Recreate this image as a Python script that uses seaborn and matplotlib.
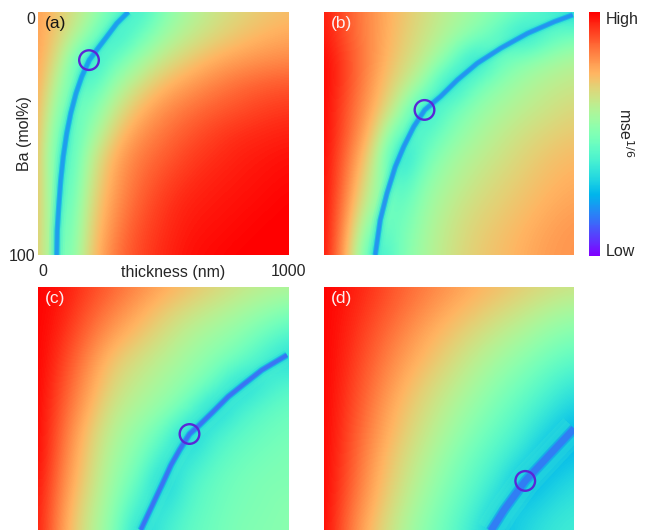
import matplotlib
matplotlib.use("Agg")
import matplotlib.pyplot as plt
import seaborn as sns
import numpy as np

# ---------------- data ----------------
thickness_nm = [0, 100, 200, 300, 400, 500, 600, 700, 800, 900, 1000]
ba_mol = [0, 10, 20, 30, 40, 50, 60, 70, 80, 90, 100]

# normalised mse^(1/6) (0 = Low, 1 = High); rows: Ba 0..100, cols: thickness 0..1000
mse_a = [
    [0.79, 0.70, 0.60, 0.46, 0.36, 0.50, 0.58, 0.64, 0.68, 0.71, 0.73],
    [0.79, 0.67, 0.53, 0.33, 0.45, 0.56, 0.63, 0.68, 0.72, 0.75, 0.77],
    [0.79, 0.61, 0.31, 0.45, 0.56, 0.65, 0.71, 0.76, 0.79, 0.81, 0.82],
    [0.79, 0.52, 0.38, 0.55, 0.66, 0.74, 0.79, 0.83, 0.86, 0.88, 0.89],
    [0.78, 0.44, 0.46, 0.63, 0.74, 0.81, 0.85, 0.88, 0.90, 0.92, 0.93],
    [0.78, 0.36, 0.52, 0.70, 0.80, 0.85, 0.89, 0.92, 0.94, 0.95, 0.96],
    [0.77, 0.32, 0.60, 0.76, 0.84, 0.88, 0.92, 0.94, 0.96, 0.97, 0.98],
    [0.77, 0.33, 0.63, 0.78, 0.86, 0.91, 0.94, 0.96, 0.97, 0.98, 0.99],
    [0.76, 0.35, 0.66, 0.80, 0.88, 0.93, 0.96, 0.97, 0.98, 0.99, 1.00],
    [0.75, 0.37, 0.68, 0.82, 0.90, 0.94, 0.97, 0.98, 0.99, 1.00, 1.00],
    [0.74, 0.39, 0.70, 0.84, 0.91, 0.95, 0.98, 0.99, 1.00, 1.00, 1.00],
]
mse_b = [
    [0.97, 0.88, 0.80, 0.73, 0.67, 0.61, 0.56, 0.51, 0.46, 0.40, 0.30],
    [0.98, 0.88, 0.80, 0.72, 0.65, 0.58, 0.51, 0.42, 0.30, 0.42, 0.48],
    [1.00, 0.90, 0.80, 0.70, 0.62, 0.50, 0.28, 0.45, 0.52, 0.56, 0.60],
    [1.00, 0.90, 0.78, 0.66, 0.55, 0.28, 0.46, 0.53, 0.58, 0.62, 0.64],
    [1.00, 0.88, 0.76, 0.60, 0.32, 0.45, 0.53, 0.58, 0.62, 0.65, 0.68],
    [1.00, 0.87, 0.72, 0.42, 0.40, 0.50, 0.57, 0.62, 0.66, 0.69, 0.71],
    [1.00, 0.84, 0.66, 0.28, 0.46, 0.56, 0.61, 0.65, 0.69, 0.72, 0.74],
    [1.00, 0.82, 0.60, 0.36, 0.52, 0.59, 0.64, 0.68, 0.71, 0.74, 0.76],
    [1.00, 0.79, 0.54, 0.42, 0.55, 0.62, 0.67, 0.70, 0.73, 0.76, 0.78],
    [1.00, 0.76, 0.42, 0.46, 0.57, 0.64, 0.69, 0.72, 0.75, 0.78, 0.80],
    [1.00, 0.73, 0.32, 0.48, 0.58, 0.65, 0.70, 0.73, 0.76, 0.79, 0.80],
]
mse_c = [
    [1.00, 0.97, 0.92, 0.87, 0.82, 0.77, 0.73, 0.69, 0.65, 0.62, 0.60],
    [1.00, 0.96, 0.89, 0.83, 0.77, 0.71, 0.66, 0.62, 0.58, 0.54, 0.50],
    [1.00, 0.94, 0.86, 0.78, 0.72, 0.66, 0.60, 0.56, 0.52, 0.46, 0.40],
    [1.00, 0.92, 0.82, 0.72, 0.66, 0.61, 0.56, 0.51, 0.46, 0.38, 0.32],
    [1.00, 0.90, 0.79, 0.68, 0.62, 0.57, 0.52, 0.45, 0.30, 0.36, 0.42],
    [1.00, 0.88, 0.76, 0.64, 0.58, 0.53, 0.45, 0.28, 0.38, 0.43, 0.46],
    [1.00, 0.86, 0.72, 0.60, 0.53, 0.45, 0.28, 0.38, 0.43, 0.46, 0.48],
    [1.00, 0.84, 0.70, 0.57, 0.50, 0.36, 0.34, 0.42, 0.46, 0.48, 0.50],
    [0.99, 0.82, 0.68, 0.55, 0.45, 0.28, 0.40, 0.45, 0.48, 0.50, 0.50],
    [0.98, 0.80, 0.65, 0.53, 0.38, 0.33, 0.42, 0.46, 0.49, 0.50, 0.52],
    [0.98, 0.78, 0.63, 0.51, 0.30, 0.38, 0.44, 0.47, 0.50, 0.51, 0.52],
]
mse_d = [
    [1.00, 0.97, 0.93, 0.88, 0.84, 0.80, 0.76, 0.73, 0.70, 0.67, 0.65],
    [1.00, 0.96, 0.91, 0.86, 0.81, 0.76, 0.72, 0.68, 0.64, 0.60, 0.57],
    [1.00, 0.95, 0.89, 0.83, 0.77, 0.72, 0.67, 0.62, 0.58, 0.53, 0.50],
    [1.00, 0.94, 0.87, 0.80, 0.74, 0.68, 0.62, 0.57, 0.52, 0.47, 0.43],
    [1.00, 0.93, 0.85, 0.77, 0.70, 0.64, 0.58, 0.52, 0.47, 0.41, 0.36],
    [1.00, 0.92, 0.83, 0.74, 0.67, 0.60, 0.54, 0.48, 0.42, 0.36, 0.30],
    [1.00, 0.91, 0.81, 0.72, 0.64, 0.57, 0.50, 0.44, 0.38, 0.30, 0.24],
    [1.00, 0.90, 0.79, 0.69, 0.61, 0.53, 0.46, 0.40, 0.33, 0.24, 0.28],
    [1.00, 0.89, 0.77, 0.67, 0.58, 0.50, 0.43, 0.36, 0.24, 0.28, 0.33],
    [1.00, 0.87, 0.75, 0.64, 0.55, 0.47, 0.40, 0.30, 0.28, 0.33, 0.36],
    [1.00, 0.85, 0.72, 0.61, 0.52, 0.45, 0.36, 0.26, 0.32, 0.36, 0.38],
]

# minimum valley traced on each panel (thickness nm, Ba mol%)
valley_a_thk = [361, 315, 275, 235, 205, 175, 152, 131, 115, 101, 91, 83, 77, 75]
valley_a_ba = [0, 4.7, 10.2, 15.6, 19.8, 26.6, 33.5, 41.7, 49.9, 59.5, 69.1, 80.1, 89.7, 100]
valley_b_thk = [995, 921, 814, 707, 613, 533, 466, 403, 359, 319, 285, 252, 225, 205]
valley_b_ba = [1.2, 4.0, 8.8, 14.9, 21.1, 28.0, 34.8, 40.3, 47.2, 55.4, 63.7, 74.6, 85.6, 100]
valley_c_thk = [996, 895, 828, 761, 694, 646, 606, 566, 532, 505, 458, 411]
valley_c_ba = [28.0, 34.2, 39.6, 45.1, 52.0, 56.8, 60.5, 67.1, 73.3, 79.4, 89.7, 100]
valley_d_thk = [1001, 908, 805, 720, 667]
valley_d_ba = [58.2, 68.4, 79.8, 91.8, 100.4]

# best-fit markers (thickness nm, Ba mol%)
best_thk = [204, 402, 606, 805]
best_ba = [19.8, 40.3, 60.5, 79.8]

panel_labels = ["(a)", "(b)", "(c)", "(d)"]

# ---------------- drawing ----------------
sns.set_theme(style="white")
plt.rcParams["font.family"] = ["Liberation Sans", "DejaVu Sans"]

W, H = 655, 531
fig = plt.figure(figsize=(W / 100, H / 100), dpi=100)


def rect(x0, y0, w, h):
    return [x0 / W, 1 - (y0 + h) / H, w / W, h / H]


cmap = plt.get_cmap("rainbow")
grids = [mse_a, mse_b, mse_c, mse_d]
valleys = [(valley_a_thk, valley_a_ba), (valley_b_thk, valley_b_ba),
           (valley_c_thk, valley_c_ba), (valley_d_thk, valley_d_ba)]
positions = [(38, 12), (324, 12), (38, 287), (324, 287)]
# (halo width px, core width px, core colour value)
valley_styles = [(16, 3.5, 0.19), (16, 3.5, 0.17), (20, 4.0, 0.11), (30, 7.0, 0.13)]
label_colors = ["#151515", "#fbf0f0", "#fbf0f0", "#fbf0f0"]

dx = (thickness_nm[1] - thickness_nm[0]) / 2
dy = (ba_mol[1] - ba_mol[0]) / 2
im = None
for i in range(4):
    x0, y0 = positions[i]
    ax = fig.add_axes(rect(x0, y0, 250, 243))
    Z = np.array(grids[i])
    im = ax.imshow(Z, cmap=cmap, vmin=0, vmax=1, interpolation="bicubic",
                   extent=[thickness_nm[0] - dx, thickness_nm[-1] + dx,
                           ba_mol[-1] + dy, ba_mol[0] - dy],
                   origin="upper", aspect="auto")
    vt, vb = valleys[i]
    halo, core, cval = valley_styles[i]
    layers = [
        (halo, 0.40, 0.18),
        (halo * 0.75, 0.36, 0.22),
        (halo * 0.52, 0.31, 0.30),
        (halo * 0.34, 0.25, 0.40),
        (core * 1.5, (0.25 + cval) / 2, 0.45),
        (core, cval, 0.65),
    ]
    for w_px, val, a in layers:
        sns.lineplot(x=vt, y=vb, sort=False, estimator=None, ax=ax,
                     color=cmap(val), linewidth=w_px * 0.72, alpha=a,
                     legend=False, solid_capstyle="butt",
                     solid_joinstyle="round")
    ax.scatter([best_thk[i]], [best_ba[i]], s=200, facecolors="none",
               edgecolors="#5a26d6", linewidths=1.7, zorder=6)
    ax.set_xlim(thickness_nm[0], thickness_nm[-1])
    ax.set_ylim(ba_mol[-1], ba_mol[0])
    for sp in ax.spines.values():
        sp.set_visible(False)
    ax.text(0.028, 0.985, panel_labels[i], transform=ax.transAxes, ha="left",
            va="top", fontsize=12.5, color=label_colors[i])
    if i == 0:
        ax.set_xticks([thickness_nm[0], thickness_nm[-1]])
        ax.set_xticklabels(["0", "1000"])
        ax.set_yticks([ba_mol[0], ba_mol[-1]])
        ax.set_yticklabels(["0", "100"])
        ax.tick_params(axis="x", length=0, pad=6.5, labelsize=11.5)
        ax.tick_params(axis="y", length=0, pad=2, labelsize=11.5)
        ax.get_xticklabels()[0].set_ha("left")
        ax.get_yticklabels()[0].set_va("top")
        ax.get_yticklabels()[1].set_va("center_baseline")
        ax.set_xlabel("thickness (nm)", fontsize=11.5)
        ax.xaxis.set_label_coords(0.542, -0.07)
        ax.xaxis.label.set_va("center")
        ax.set_ylabel("Ba (mol%)", fontsize=11.5)
        ax.yaxis.set_label_coords(-0.054, 0.5)
        ax.yaxis.label.set_va("center")
    else:
        ax.set_xticks([])
        ax.set_yticks([])

cax = fig.add_axes(rect(589, 12, 11, 244))
cb = fig.colorbar(im, cax=cax, ticks=[0, 1])
cb.ax.set_yticklabels(["Low", "High"])
cb.outline.set_visible(False)
cax.tick_params(length=0, pad=4, labelsize=11.5)
cax.get_yticklabels()[1].set_va("top")
cax.get_yticklabels()[0].set_va("baseline")
fig.text(625 / W, 1 - 133 / H, "mse$^{1/6}$", rotation=-90, ha="center",
         va="center", fontsize=11.5)

fig.savefig("out.png", dpi=100)
